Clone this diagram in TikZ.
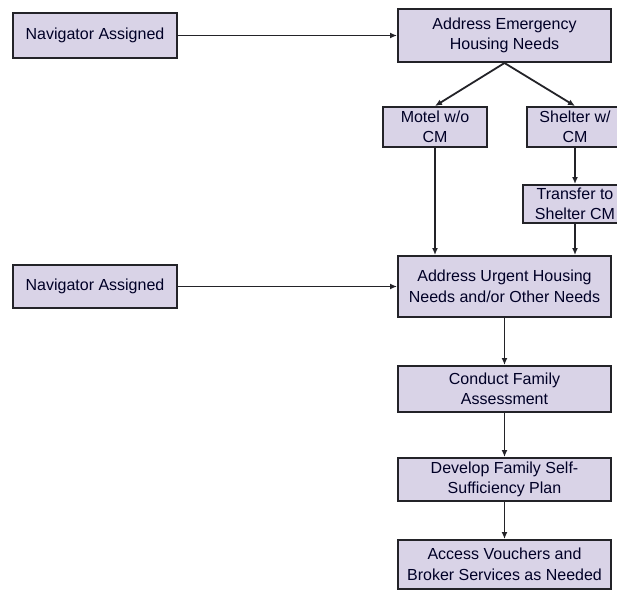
\documentclass[tikz,border=0pt]{standalone}
\usepackage{fontspec}
\setmainfont{Liberation Sans}
\usetikzlibrary{arrows.meta}
\definecolor{boxfill}{RGB}{217,211,231}
\definecolor{boxline}{RGB}{35,35,40}

\begin{document}
\begin{tikzpicture}[x=1pt, y=-1pt,
  box/.style={draw=boxline, line width=2pt, fill=boxfill, align=center,
    inner sep=0pt, font=\fontsize{16}{20.5}\selectfont, text=black!85!blue},
  flow/.style={draw=boxline, line width=1.8pt, -{Latex[length=7pt,width=6pt]}}]

\useasboundingbox (0,0) rectangle (617,589);
\clip (0,0) rectangle (617,589);
\fill[white] (0,0) rectangle (617,589);

% top row: emergency housing
\node[box, minimum width=164, minimum height=45] (navTop) at (95,35.5) {Navigator Assigned};
\node[box, minimum width=213, minimum height=53] (emergency) at (504.5,35.5) {Address Emergency\\Housing Needs};

% housing options
\node[box, minimum width=104, minimum height=40] (motel) at (435,127) {Motel w/o\\CM};
\node[box, minimum width=96, minimum height=40] (shelter) at (575,127) {Shelter w/\\CM};
\node[box, minimum width=104, minimum height=38] (transfer) at (575,204) {Transfer to\\Shelter CM};

% second row: urgent needs
\node[box, minimum width=164, minimum height=43] (navLow) at (95,286.5) {Navigator Assigned};
\node[box, minimum width=213, minimum height=61] (urgent) at (504.5,286.5) {Address Urgent Housing\\Needs and/or Other Needs};

% family steps
\node[box, minimum width=213, minimum height=46] (assess) at (504.5,389) {Conduct Family\\Assessment};
\node[box, minimum width=213, minimum height=43] (plan) at (504.5,479.5) {Develop Family Self-\\Sufficiency Plan};
\node[box, minimum width=213, minimum height=49] (vouchers) at (504.5,564.5) {Access Vouchers and\\Broker Services as Needed};

% connectors
\draw[flow] (navTop.east) -- (emergency.west);
\draw[flow] (emergency.south) -- (motel.north);
\draw[flow] (emergency.south) -- (shelter.north);
\draw[flow] (shelter.south) -- (transfer.north);
\draw[flow] (motel.south) -- (motel.south |- urgent.north);
\draw[flow] (transfer.south) -- (transfer.south |- urgent.north);
\draw[flow] (navLow.east) -- (urgent.west);
\draw[flow] (urgent.south) -- (assess.north);
\draw[flow] (assess.south) -- (plan.north);
\draw[flow] (plan.south) -- (vouchers.north);

\end{tikzpicture}
\end{document}
